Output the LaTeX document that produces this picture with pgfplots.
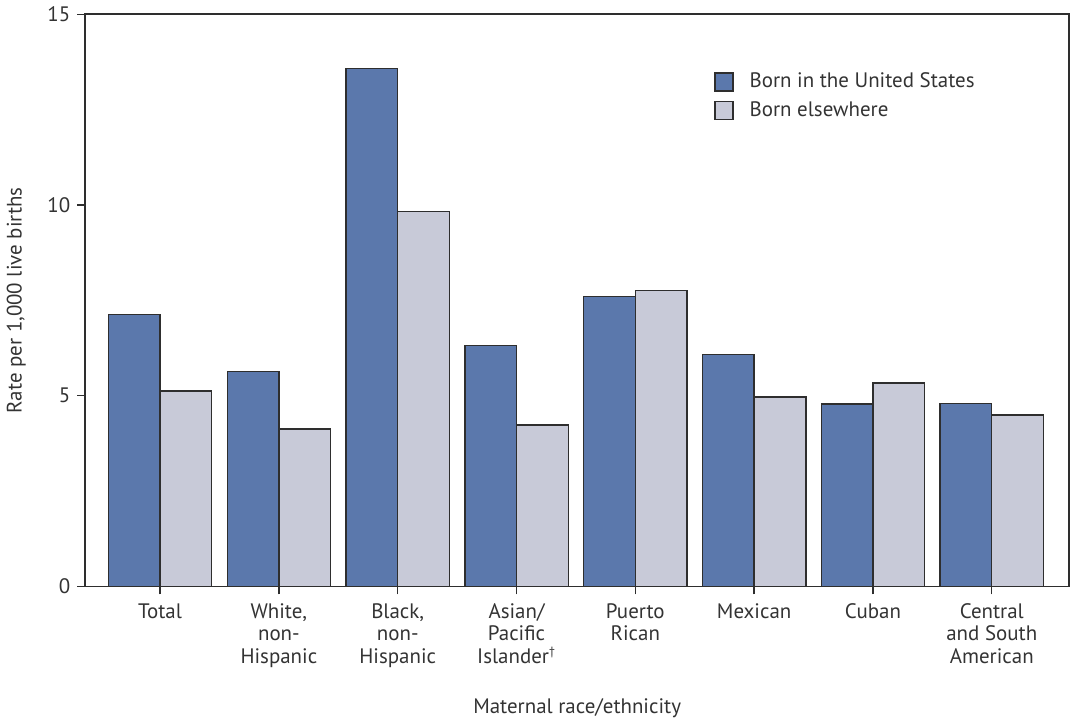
\documentclass[border=0pt]{standalone}
\usepackage{fontspec}
\setmainfont{PT Sans}
\usepackage{pgfplots}
\pgfplotsset{compat=1.18}
\definecolor{usblue}{HTML}{5B78AC}
\definecolor{elsegray}{HTML}{C8CAD8}
\definecolor{edge}{HTML}{2E2E2E}
\definecolor{txt}{HTML}{333333}
\begin{document}
\begin{tikzpicture}[font=\fontsize{10.5}{11.3}\selectfont]
\begin{axis}[
    width=493.5pt, height=287pt, scale only axis,
    ybar=0pt, bar width=0.435,
    xmin=-0.63, xmax=7.65,
    ymin=0, ymax=15,
    ytick={0,5,10,15},
    xtick=data,
    xticklabels={Total, {White,\\non-\\Hispanic}, {Black,\\non-\\Hispanic},
        {Asian/\\Pacific\\Islander\textsuperscript{\fontsize{6}{6}\selectfont †}}, {Puerto\\Rican}, Mexican,
        Cuban, {Central\\and South\\American}},
    xticklabel style={align=center, text=txt, anchor=north, yshift=-1pt},
    yticklabel style={text=txt},
    /pgf/number format/assume math mode=true,
    tick pos=left, tick align=outside,
    major tick length=4pt,
    tick style={edge, line width=0.7pt},
    axis line style={edge, line width=0.8pt},
    xlabel={Maternal race/ethnicity},
    ylabel={Rate per 1,000 live births},
    xlabel style={text=txt, yshift=-9pt},
    ylabel style={text=txt, yshift=4pt},
    legend style={at={(0.633,0.912)}, anchor=north west, draw=none, fill=none,
        text=txt, row sep=1.5pt, font=\fontsize{10.5}{12}\selectfont},
    legend cell align=left,
    legend image code/.code={\draw[#1] (0pt,-4.5pt) rectangle (9pt,4.5pt);
        \path (15pt,0pt);},
]
\addplot[fill=usblue, draw=edge, line width=0.7pt] coordinates {
    (0,7.13) (1,5.64) (2,13.58) (3,6.32) (4,7.60) (5,6.08) (6,4.78) (7,4.80)
};
\addplot[fill=elsegray, draw=edge, line width=0.7pt] coordinates {
    (0,5.12) (1,4.13) (2,9.82) (3,4.23) (4,7.75) (5,4.96) (6,5.33) (7,4.49)
};
\legend{Born in the United States, Born elsewhere}
\end{axis}
\path (current axis.north east) ++(2pt,5pt);
\end{tikzpicture}
\end{document}
